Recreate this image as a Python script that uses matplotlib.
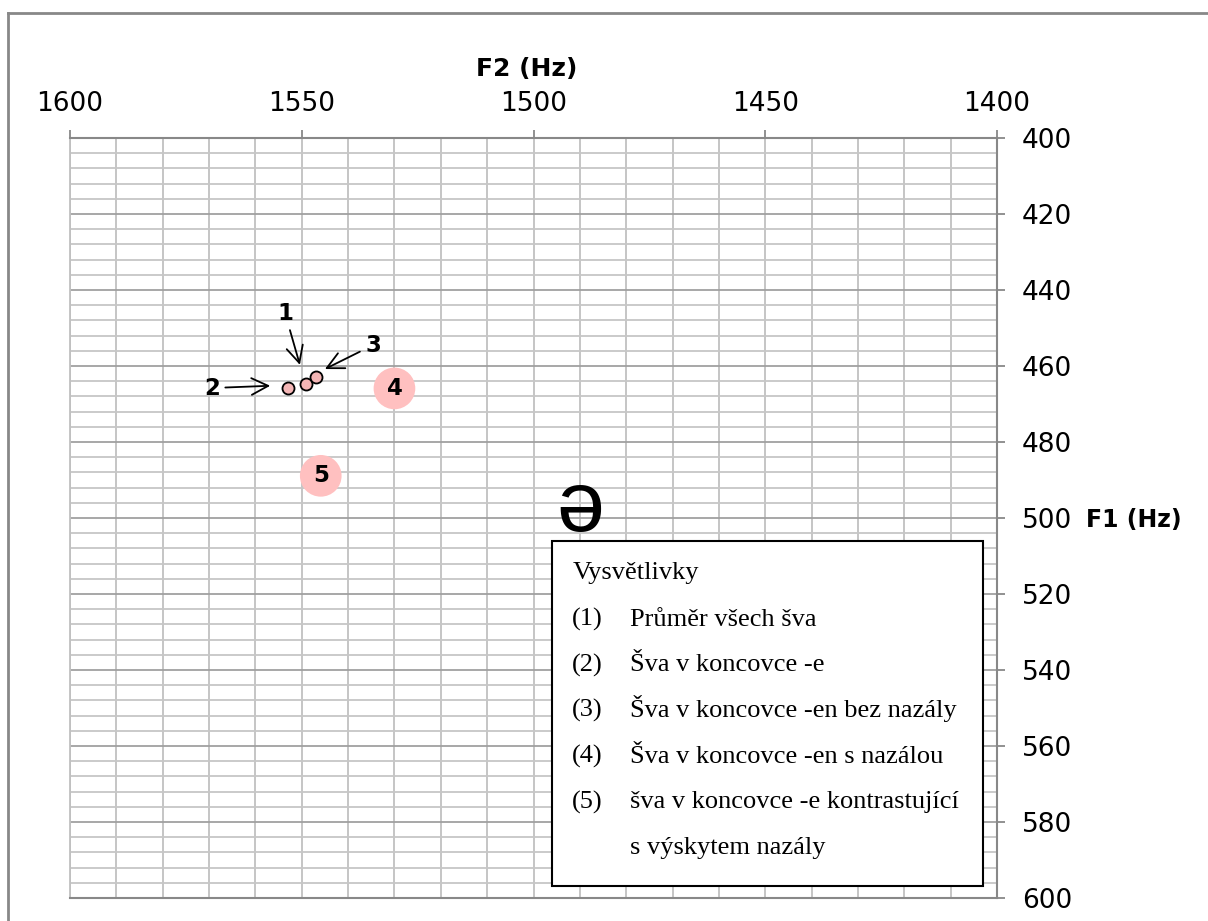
import matplotlib
matplotlib.use('Agg')
import matplotlib.pyplot as plt
from matplotlib.patches import Rectangle
from matplotlib.lines import Line2D
from matplotlib.ticker import MultipleLocator

plt.rcParams['font.family'] = ['DejaVu Sans']

# formant values of the schwa variants (F2, F1 in Hz)
small_f2 = [1549.1, 1553.0, 1547.0]
small_f1 = [464.8, 465.9, 462.8]
big_f2 = [1530.0, 1545.9]
big_f1 = [465.9, 488.9]
big_labels = ['4', '5']

# numbered arrows pointing at the small points
arrow_labels = ['1', '2', '3']
arrow_text_f2 = [1553.6, 1569.4, 1534.6]
arrow_text_f1 = [446.1, 465.8, 454.5]
arrow_tip_f2 = [1550.4, 1556.8, 1545.0]
arrow_tip_f1 = [459.7, 465.2, 460.8]

schwa_f2, schwa_f1 = 1490.0, 503.4

legend_title = 'Vysvětlivky'
legend_nums = ['(1)', '(2)', '(3)', '(4)', '(5)', '']
legend_items = ['Průměr všech šva', 'Šva v koncovce -e',
                'Šva v koncovce -en bez nazály', 'Šva v koncovce -en s nazálou',
                'šva v koncovce -e kontrastující', 's výskytem nazály']

W, H = 1208, 921
fig = plt.figure(figsize=(W / 100, H / 100), dpi=100)

def fx(px):
    return px / W

def fy(py):
    return 1 - py / H

ax = fig.add_axes([fx(70), fy(898), fx(997) - fx(70), fy(138) - fy(898)])
ax.set_xlim(1600, 1400)
ax.set_ylim(600, 400)

ax.xaxis.set_major_locator(MultipleLocator(50))
ax.xaxis.set_minor_locator(MultipleLocator(10))
ax.yaxis.set_major_locator(MultipleLocator(20))
ax.yaxis.set_minor_locator(MultipleLocator(4))
ax.xaxis.tick_top()
ax.yaxis.tick_right()
ax.tick_params(axis='both', which='major', direction='out', length=6, width=1.3,
               color='#888888', labelsize=19)
ax.tick_params(axis='x', which='major', pad=9)
ax.tick_params(axis='y', which='major', pad=12)
ax.tick_params(axis='both', which='minor', length=0)

ax.grid(True, axis='x', which='both', color='#c0c0c0', lw=1.3)
ax.grid(True, axis='y', which='minor', color='#c6c6c6', lw=1.3)
ax.grid(True, axis='y', which='major', color='#a0a0a0', lw=1.3)
ax.set_axisbelow(True)

for side in ['top', 'right', 'bottom']:
    ax.spines[side].set_color('#888888')
    ax.spines[side].set_linewidth(1.5)
ax.spines['left'].set_color('#c0c0c0')
ax.spines['left'].set_linewidth(1.3)

ax.scatter(big_f2, big_f1, s=900, color='#ffc0c0', edgecolors='none', zorder=3)
for x, y, t in zip(big_f2, big_f1, big_labels):
    ax.text(x, y, t, ha='center', va='center', fontsize=16.5, fontweight='bold', zorder=4)
ax.scatter(small_f2, small_f1, s=75, color='#f4b6b6', edgecolors='black',
           linewidths=1.3, zorder=5)

for t, tx, ty, ax2, ay2 in zip(arrow_labels, arrow_text_f2, arrow_text_f1,
                               arrow_tip_f2, arrow_tip_f1):
    ax.annotate(t, xy=(ax2, ay2), xytext=(tx, ty), ha='center', va='center',
                fontsize=16.5, fontweight='bold', zorder=6,
                arrowprops=dict(arrowstyle='->', color='black', lw=1.3,
                                shrinkA=2, shrinkB=0, mutation_scale=30))

ax.text(schwa_f2, schwa_f1, 'ə', ha='center', va='baseline', fontsize=62,
        family=['Liberation Sans', 'DejaVu Sans'], zorder=6)

fig.text(fx(527), fy(69), 'F2 (Hz)', ha='center', va='center', fontsize=18,
         fontweight='bold')
fig.text(fx(1134), fy(520), 'F1 (Hz)', ha='center', va='center', fontsize=17,
         fontweight='bold')

# outer chart frame (cropped at right and bottom)
fig.add_artist(Line2D([fx(8), fx(1208)], [fy(13), fy(13)], color='#888888', lw=2))
fig.add_artist(Line2D([fx(8), fx(8)], [fy(13), fy(921)], color='#888888', lw=2))

# explanation box
fig.add_artist(Rectangle((fx(552), fy(886)), fx(983) - fx(552), fy(541) - fy(886),
                         facecolor='white', edgecolor='black', lw=1.5, zorder=5))
serif = ['Liberation Serif', 'DejaVu Serif']
fig.text(fx(573), fy(579), legend_title, ha='left', va='baseline', fontsize=19,
         family=serif, zorder=6)
for i, (n, item) in enumerate(zip(legend_nums, legend_items)):
    yy = 625.7 + i * 45.6
    fig.text(fx(572), fy(yy), n, ha='left', va='baseline', fontsize=19,
             family=serif, zorder=6)
    fig.text(fx(630), fy(yy), item, ha='left', va='baseline', fontsize=19,
             family=serif, zorder=6)

fig.savefig('out.png', dpi=100)
